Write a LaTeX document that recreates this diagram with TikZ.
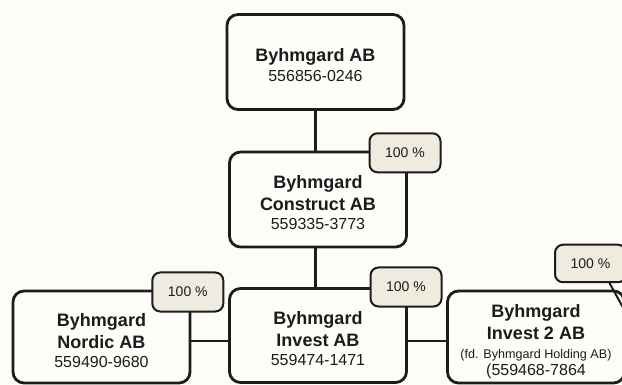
\documentclass[tikz,border=0pt]{standalone}
\usepackage{fontspec}
\setmainfont{Liberation Sans}
\definecolor{bg}{HTML}{FDFCF6}
\definecolor{boxfill}{HTML}{FEFDF9}
\definecolor{tagfill}{HTML}{EEEBDF}
\definecolor{ink}{HTML}{1C1C1C}
\newcommand\numtxt[1]{{\fontsize{16}{19}\selectfont\mdseries #1}}
\newcommand\smalltxt[1]{{\fontsize{12.6}{14}\selectfont\mdseries #1}}
\begin{document}
\begin{tikzpicture}[x=1pt,y=-1pt,
  box/.style={draw=ink, line width=2.8pt, fill=boxfill, rounded corners=11pt,
    minimum width=177pt, minimum height=95pt, inner sep=0pt},
  txt/.style={align=center, text=ink, inner sep=0pt,
    font=\fontsize{18}{22}\selectfont\bfseries},
  tagbox/.style={draw=ink, line width=2pt, fill=tagfill, rounded corners=8pt,
    minimum width=71pt, minimum height=39pt, inner sep=0pt,
    font=\fontsize{14}{16}\selectfont, text=ink},
  conn/.style={draw=ink, line width=2.8pt}]
\useasboundingbox[fill=bg] (0,0) rectangle (622,385);

% boxes
\node[box] (top) at (315.5,62) {};
\node[box] (con) at (318,199.5) {};
\node[box, minimum height=94pt] (inv) at (318,335.5) {};
\node[box, minimum height=92pt] (nor) at (101.5,337) {};
\node[box, minimum height=92pt] (inv2) at (536,337) {};

% texts
\node[txt] (ttop) at ([yshift=-3pt]top.center) {Byhmgard AB\\[-2.5pt]\numtxt{556856-0246}};
\node[txt] (tcon) at ([yshift=-3pt]con.center) {Byhmgard\\Construct AB\\[-3pt]\numtxt{559335-3773}};
\node[txt] (tinv) at ([yshift=-3pt]inv.center) {Byhmgard\\Invest AB\\[-3pt]\numtxt{559474-1471}};
\node[txt] (tnor) at ([yshift=-4pt]nor.center) {Byhmgard\\Nordic AB\\[-3pt]\numtxt{559490-9680}};
\node[txt] (tinv2) at ([yshift=-4.5pt]inv2.center) {Byhmgard\\Invest 2 AB\\[-2.5pt]\smalltxt{(fd. Byhmgard Holding AB)}\\[-5pt]\numtxt{(559468-7864}};

% connectors
\coordinate (hline) at (0,341);
\draw[conn] (top.south) -- (top.south |- con.north);
\draw[conn] (top.south |- con.south) -- (top.south |- inv.north);
\draw[conn] (nor.east |- hline) -- (inv.west |- hline);
\draw[conn] (inv.east |- hline) -- (inv2.west |- hline);

% ownership tags
\node[tagbox] (gcon) at (405,152.8) {100 \%};
\node[tagbox] (gnor) at (187.8,292) {100 \%};
\node[tagbox] (ginv) at (406,287) {100 \%};
\coordinate (dend) at (626,313);
\draw[draw=ink, line width=2pt] (609.5,283) -- (dend);
\node[tagbox, minimum height=37.5pt] (ginv2) at (590.5,263.5) {100 \%};
\end{tikzpicture}
\end{document}
